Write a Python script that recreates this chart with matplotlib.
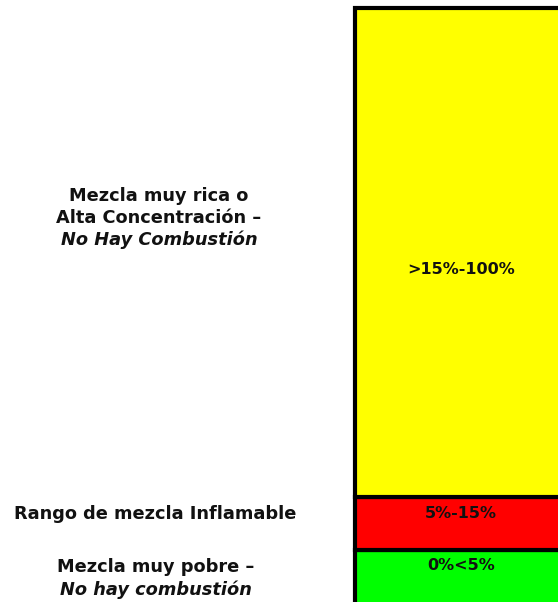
import matplotlib
matplotlib.use("Agg")
import matplotlib.pyplot as plt

# Data (visual segment heights, bottom to top)
segments = ["Mezcla muy pobre", "Rango de mezcla Inflamable", "Mezcla muy rica"]
ranges = ["0%<5%", "5%-15%", ">15%-100%"]
heights = [55, 53, 489]
colors = ["#00ff00", "#ff0000", "#ffff00"]

plt.rcParams['font.family'] = ['DejaVu Sans']

fig = plt.figure(figsize=(5.58, 6.02), dpi=100)
ax = fig.add_axes([0, 0, 1, 1])
ax.set_xlim(0, 558)
ax.set_ylim(0, 602)
ax.axis('off')

bottom = -3
for h, c, r in zip(heights, colors, ranges):
    ax.bar(355, h, bottom=bottom, width=230, align='edge', color=c,
           edgecolor='black', linewidth=3, zorder=2)
    bottom += h

# range labels
rk = dict(ha='center', va='center', fontsize=11.5, fontweight='bold', color='#111111')
ax.text(461, 602 - 270, ranges[2], **rk)
ax.text(461, 602 - 513, ranges[1], **rk)
ax.text(461, 602 - 566, ranges[0], **rk)

# left descriptions
kw = dict(ha='center', va='center', fontsize=12.8, fontweight='bold', color='#111111')
ax.text(159, 602 - 196, "Mezcla muy rica o", **kw)
ax.text(159, 602 - 218, "Alta Concentración –", **kw)
ax.text(159, 602 - 240, "No Hay Combustión", style='italic', **kw)
ax.text(155, 602 - 514, "Rango de mezcla Inflamable", **kw)
ax.text(156, 602 - 567, "Mezcla muy pobre –", **kw)
ax.text(156, 602 - 590, "No hay combustión", style='italic', **kw)

fig.savefig("out.png", dpi=100, facecolor='white')
